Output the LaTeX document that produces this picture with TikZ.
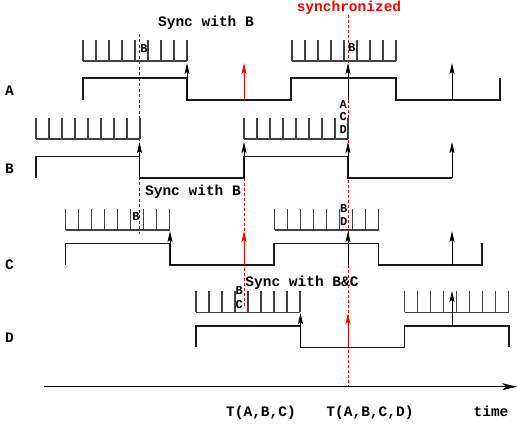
\documentclass[tikz,border=0pt]{standalone}
\usepackage{fontspec}
\setmonofont{Liberation Mono}
\usetikzlibrary{arrows.meta}

% comb of nine clock ticks: #1 = left x, #2 = baseline y
\newcommand\drawcomb[2]{%
  \draw[combline] (#1,#2) -- ++(104,0);
  \foreach \k in {0,...,8}{\draw[combline] (#1+13*\k,#2) -- ++(0,-21);}
}

\begin{document}
\begin{tikzpicture}[x=1pt,y=-1pt,
  sig/.style={line width=1.2pt, black!90, line join=miter},
  combline/.style={line width=1.15pt, black!75},
  tickarrow/.style={line width=0.9pt, -{Stealth[length=11pt,width=5pt,inset=2pt]}},
  syncline/.style={line width=0.9pt, red, dash pattern=on 3pt off 2pt},
  holdline/.style={line width=0.9pt, black!80, dash pattern=on 3pt off 2.5pt},
  title/.style={font=\fontsize{14.5}{16}\selectfont\ttfamily\bfseries, inner sep=0pt, anchor=base},
  lettertag/.style={font=\fontsize{12}{13}\selectfont\ttfamily\bfseries, inner sep=0pt, anchor=base},
  axisline/.style={line width=1.2pt, -{Stealth[length=15pt,width=7pt,inset=4pt]}}
]
\useasboundingbox (0,0) rectangle (517,427);

% synchronisation markers
\draw[holdline] (139.3,34) -- (139.3,234);
\draw[syncline] (348,15) -- (348,386);
\draw[syncline] (244,178) -- (244,306);

% clock ticks
\drawcomb{83}{61}
\drawcomb{292}{61}
\drawcomb{36}{139}
\drawcomb{244}{139}
\drawcomb{65.5}{230}
\drawcomb{274.5}{230}
\drawcomb{196}{312.5}
\drawcomb{404.5}{312.5}

% process signals
\draw[sig] (83,100) -- (83,78) -- (187,78) -- (187,100) -- (291,100) -- (291,78)
  -- (396,78) -- (396,100) -- (500,100) -- (500,78);
\draw[sig] (36,178) -- (36,156.5) -- (139.5,156.5) -- (139.5,178) -- (244,178)
  -- (244,156.5) -- (348,156.5) -- (348,178) -- (452,178);
\draw[sig] (65.5,265) -- (65.5,243.5) -- (170,243.5) -- (170,265) -- (274,265)
  -- (274,243.5) -- (378.5,243.5) -- (378.5,265) -- (482,265) -- (482,243.5);
\draw[sig] (196,347.5) -- (196,326) -- (300.5,326) -- (300.5,347.5) -- (404.5,347.5)
  -- (404.5,326) -- (509,326) -- (509,347.5);

% events
\draw[tickarrow] (187,100) -- (187,63);
\draw[tickarrow, red] (244,100) -- (244,63);
\draw[tickarrow] (348,100) -- (348,63);
\draw[tickarrow] (452,100) -- (452,63);

\draw[tickarrow] (139.5,178) -- (139.5,142);
\draw[tickarrow] (244,178) -- (244,142);
\draw[tickarrow] (348,178) -- (348,142);
\draw[tickarrow] (452,178) -- (452,142);

\draw[tickarrow] (170,265) -- (170,231);
\draw[tickarrow, red] (244,265) -- (244,231);
\draw[tickarrow] (348,265) -- (348,231);
\draw[tickarrow] (452,265) -- (452,231);

\draw[tickarrow] (300.5,347.5) -- (300.5,313);
\draw[tickarrow, red] (348,347.5) -- (348,313);
\draw[tickarrow] (452,326) -- (452,291);

% time axis
\coordinate (t0) at (44,386.7);
\coordinate (t1) at (517,386.7);
\draw[axisline] (t0) -- (t1);

% labels
\node[title] (syncab) at (206,26.5) {Sync with B};
\node[title, red] (synced) at (349,11.5) {synchronized};
\node[title] (synccb) at (193,195.7) {Sync with B};
\node[title] (syncdbc) at (302,286.7) {Sync with B\&C};

\node[title] (pa) at (9.5,96) {A};
\node[title] (pb) at (9.5,174) {B};
\node[title] (pc) at (9.5,270) {C};
\node[title] (pd) at (9.5,342.7) {D};

\node[title] (t3) at (261,416.5) {T(A,B,C)};
\node[title] (t4) at (370,416.5) {T(A,B,C,D)};
\node[title] (tm) at (491,416.5) {time};

\node[lettertag] (a1b) at (144,52.3) {B};
\node[lettertag] (a2b) at (351.7,51.7) {B};
\node[lettertag] (b2a) at (343.3,108.3) {A};
\node[lettertag] (b2c) at (343.3,121) {C};
\node[lettertag] (b2d) at (343.3,133.3) {D};
\node[lettertag] (c1b) at (136,220.7) {B};
\node[lettertag] (c2b) at (343.7,212.7) {B};
\node[lettertag] (c2d) at (343.7,225.7) {D};
\node[lettertag] (d1b) at (239.3,295) {B};
\node[lettertag] (d1c) at (239.3,308.3) {C};
\end{tikzpicture}
\end{document}
